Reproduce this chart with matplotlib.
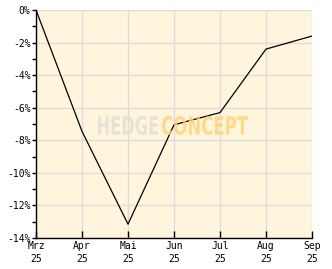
import numpy as np
import matplotlib
matplotlib.use("Agg")
import matplotlib.pyplot as plt
from matplotlib.textpath import TextPath
from matplotlib.patches import PathPatch
from matplotlib.font_manager import FontProperties
from matplotlib.transforms import Affine2D, IdentityTransform

months = ["Mrz\n25", "Apr\n25", "Mai\n25", "Jun\n25", "Jul\n25", "Aug\n25", "Sep\n25"]
drawdown = [0.0, -7.45, -13.15, -7.05, -6.3, -2.4, -1.6]
yticks = [0, -2, -4, -6, -8, -10, -12, -14]

W, H = 332, 269
fig = plt.figure(figsize=(W / 100, H / 100), dpi=100)
ax = fig.add_axes([36/W, 1-238/H, 276/W, 228/H])
ax.set_facecolor("#FFF5DC")

x = np.arange(len(months))
ax.plot(x, drawdown, color="black", linewidth=0.9)

ax.set_xlim(0, len(months) - 1)
ax.set_ylim(-14, 0)
ax.set_xticks(x)
ax.set_xticklabels(months, fontsize=7, family="DejaVu Sans Mono", linespacing=1.35)
ax.set_yticks(yticks)
ax.set_yticklabels([f"{v}%" for v in yticks], fontsize=7, family="DejaVu Sans Mono")
ax.set_yticks(np.arange(-13, 0, 2), minor=True)
ax.grid(True, color="#DDDDDD", linewidth=1)
ax.set_axisbelow(True)

for s in ["top", "right"]:
    ax.spines[s].set_visible(False)
ax.spines["left"].set_linewidth(1)
ax.spines["bottom"].set_linewidth(1)
ax.tick_params(axis="y", which="both", direction="out", length=3, width=1, pad=1)
ax.tick_params(axis="x", direction="in", length=5, width=1, pad=2)

# watermark, squeezed into its pixel box
fp = FontProperties(family="DejaVu Sans", weight="bold")
def stamp(word, x0, x1, y0, y1, color):
    p = TextPath((0, 0), word, size=20, prop=fp)
    ext = p.get_extents()
    tr = (Affine2D().translate(-ext.x0, -ext.y0)
          .scale((x1 - x0) / ext.width, (y1 - y0) / ext.height)
          .translate(x0, H - y1))
    fig.patches.append(PathPatch(tr.transform_path(p), transform=IdentityTransform(),
                                 facecolor=color, edgecolor="none", alpha=0.8, zorder=5))

stamp("HEDGE", 98, 158, 116, 135, "#E2DED6")
stamp("CONCEPT", 162, 248, 116, 135, "#FFD274")

fig.savefig("out.png", dpi=100)
